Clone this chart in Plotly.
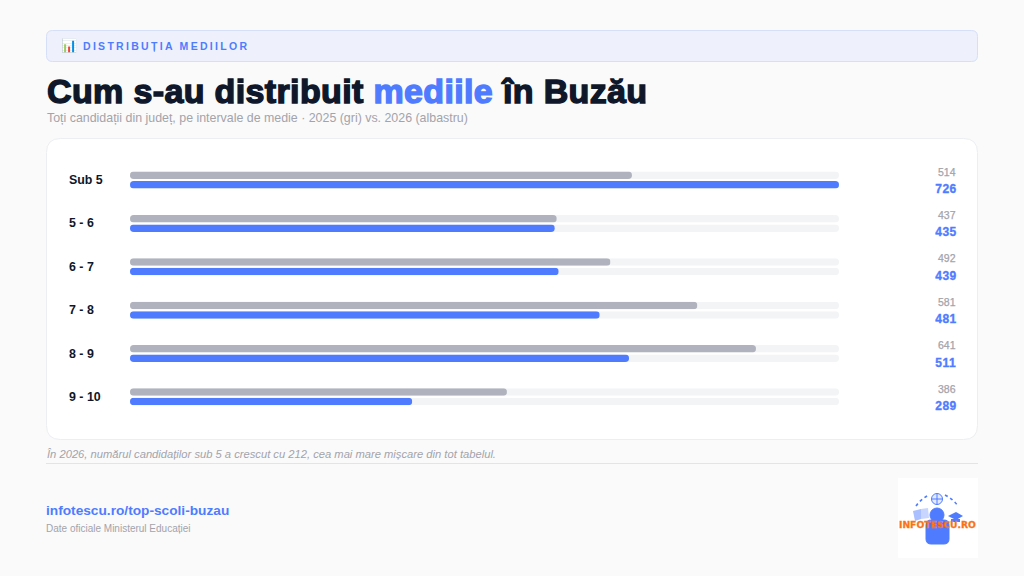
import plotly.graph_objects as go

categories = ["Sub 5", "5 - 6", "6 - 7", "7 - 8", "8 - 9", "9 - 10"]
values_2025 = [514, 437, 492, 581, 641, 386]
values_2026 = [726, 435, 439, 481, 511, 289]

W, H = 1024, 576
FONT = "Liberation Sans"
BLUE = "#4f7cff"
GREY = "#b0b3bd"
TRACK = "#f3f4f6"
DARK = "#0f172a"
MUTED = "#a3a3ab"

def px(x): return x / W
def py(y): return 1 - y / H

def rrect(x0, y0, x1, y1, r):
    return (f"M{px(x0+r)},{py(y0)} L{px(x1-r)},{py(y0)} Q{px(x1)},{py(y0)} {px(x1)},{py(y0+r)} "
            f"L{px(x1)},{py(y1-r)} Q{px(x1)},{py(y1)} {px(x1-r)},{py(y1)} L{px(x0+r)},{py(y1)} "
            f"Q{px(x0)},{py(y1)} {px(x0)},{py(y1-r)} L{px(x0)},{py(y0+r)} Q{px(x0)},{py(y0)} {px(x0+r)},{py(y0)} Z")

def panel(x0, y0, x1, y1, r, fill, line, lw=1):
    return dict(type="path", xref="paper", yref="paper", path=rrect(x0, y0, x1, y1, r),
                fillcolor=fill, line=dict(color=line, width=lw), layer="below")

def txt(x, y, text, size, color, bold=False, italic=False, anchor="left", family=FONT):
    return dict(xref="paper", yref="paper", x=px(x), y=py(y), text=text, showarrow=False,
                xanchor=anchor, yanchor="middle", align=anchor, borderpad=0, borderwidth=0,
                font=dict(family=family, size=size, color=color,
                          weight=700 if bold else 400, style="italic" if italic else "normal"))

fig = go.Figure()
ROW = 43.35
CENTER = 180.1
top, bottom = CENTER - ROW / 2, CENTER + 5.5 * ROW
bar_w = 7.5 / ROW
track_x = [max(values_2026)] * len(categories)
g_off = -4.75 / ROW - bar_w / 2
b_off = 4.75 / ROW - bar_w / 2
for xs, off, col in [(track_x, g_off, TRACK), (track_x, b_off, TRACK),
                     (values_2025, g_off, GREY), (values_2026, b_off, BLUE)]:
    fig.add_bar(y=categories, x=xs, orientation="h", width=[bar_w] * len(categories),
                offset=off, marker=dict(color=col, line=dict(width=0)),
                hoverinfo="skip", showlegend=False)

ann = [
    txt(61, 45.5, "📊", 13, BLUE),
    txt(83, 45.5, "DISTRIBUȚIA MEDIILOR", 10.5, BLUE, bold=True),
    txt(47, 91, f"Cum s-au distribuit <span style='color:{BLUE}'>mediile</span> în Buzău", 34, DARK, bold=True),
    txt(47, 118, "Toți candidații din județ, pe intervale de medie · 2025 (gri) vs. 2026 (albastru)", 12.4, MUTED),
    txt(47, 454, "În 2026, numărul candidaților sub 5 a crescut cu 212, cea mai mare mișcare din tot tabelul.", 11.2, MUTED, italic=True),
    txt(46, 510, "infotescu.ro/top-scoli-buzau", 13.7, BLUE, bold=True),
    txt(46, 528, "Date oficiale Ministerul Educației", 10, MUTED),
]
for c, a, b in zip(categories, values_2025, values_2026):
    ann.append(dict(xref="paper", yref="y", x=px(68), y=c, text=c, showarrow=False, xanchor="left",
                    borderpad=0, font=dict(family=FONT, size=12.4, color=DARK, weight=700)))
    ann.append(dict(xref="paper", yref="y", x=px(957), y=c, yshift=8.3, text=str(a), showarrow=False,
                    xanchor="right", borderpad=0, font=dict(family=FONT, size=10.5, color=MUTED, weight=400)))
    ann.append(dict(xref="paper", yref="y", x=px(957), y=c, yshift=-9, text=str(b), showarrow=False,
                    xanchor="right", borderpad=0, font=dict(family=FONT, size=12, color=BLUE, weight=700)))

# logo drawn from simple shapes and text
ann.append(txt(937.5, 524, "INFOTESCU.RO", 9.2, "#f97316", bold=True, anchor="center", family="DejaVu Sans"))
LB = "#4f7cff"
def poly(pts, fill):
    d = "M" + " L".join(f"{px(x)},{py(y)}" for x, y in pts) + " Z"
    return dict(type="path", xref="paper", yref="paper", path=d, fillcolor=fill, line=dict(width=0), layer="below")
def circ(cx, cy, r, fill, line=None):
    return dict(type="circle", xref="paper", yref="paper", x0=px(cx - r), x1=px(cx + r), y0=py(cy + r), y1=py(cy - r),
                fillcolor=fill, line=dict(color=line or fill, width=1), layer="below")
def seg(x0, y0, x1, y1, w=1, col=LB):
    return dict(type="line", xref="paper", yref="paper", x0=px(x0), x1=px(x1), y0=py(y0), y1=py(y1),
                line=dict(color=col, width=w), layer="below")
shapes = [
    panel(46.5, 30.5, 977.5, 61.5, 6, "#eef1fb", "#d6dffa"),
    panel(46.5, 138.5, 977.5, 439.5, 14, "#ffffff", "#eceef1"),
    dict(type="line", xref="paper", yref="paper", x0=px(46), x1=px(978), y0=py(463.5), y1=py(463.5),
         line=dict(color="#e3e4e8", width=1), layer="below"),
    dict(type="rect", xref="paper", yref="paper", x0=px(898), x1=px(978), y0=py(558), y1=py(478),
         fillcolor="#ffffff", line=dict(width=0), layer="below"),
    circ(937, 499, 5.5, "#e3eaff", LB),
    seg(931.5, 499, 942.5, 499), seg(937, 493.5, 937, 504.5),
    circ(937, 515, 7, LB),
    panel(926, 520, 949, 544, 5, LB, LB),
    poly([(913, 511), (921, 509), (921, 519), (915, 521)], "#a9bfff"),
    poly([(921, 509), (928, 508), (929, 518), (921, 519)], "#c7d5ff"),
    poly([(948, 516), (956, 512), (963, 516), (956, 520)], "#4f7cff"),
    poly([(951, 519), (960, 519), (960, 522), (951, 522)], "#4f7cff"),
    dict(type="path", xref="paper", yref="paper",
         path=f"M{px(916)},{py(506)} Q{px(921)},{py(499)} {px(929)},{py(495)}",
         line=dict(color=LB, width=1.6, dash="3px,3px"), layer="below"),
    dict(type="path", xref="paper", yref="paper",
         path=f"M{px(945)},{py(495)} Q{px(953)},{py(499)} {px(958)},{py(506)}",
         line=dict(color=LB, width=1.6, dash="3px,3px"), layer="below"),
]

fig.update_layout(
    width=W, height=H, margin=dict(l=0, r=0, t=0, b=0),
    paper_bgcolor="#fafafa", plot_bgcolor="rgba(0,0,0,0)",
    barmode="overlay",
    xaxis=dict(domain=[px(130), px(839)], range=[0, max(values_2026)], visible=False, fixedrange=True),
    yaxis=dict(domain=[py(bottom), py(top)], type="category", categoryorder="array", categoryarray=categories,
               autorange="reversed", visible=False, fixedrange=True),
    annotations=ann, shapes=shapes,
)

post = """
document.documentElement.style.margin='0';document.body.style.margin='0';document.body.style.overflow='hidden';
document.querySelectorAll('.bars .point path').forEach(function(p){p.style.clipPath='inset(0 round 3.75px)';});
document.querySelectorAll('.annotation-text').forEach(function(t){
  var s=t.textContent;
  if(s.indexOf('DISTRIBU')===0){t.style.letterSpacing='2.3px';}
  if(s.indexOf('INFOTESCU')===0){t.style.stroke='#f97316';t.style.strokeWidth='0.3px';}
  if(s.indexOf('Cum s-au')===0){t.style.letterSpacing='0.36px';
    var col=[t].concat(Array.from(t.querySelectorAll('tspan')));
    col.forEach(function(e){var f=e.style.fill; if(f){e.style.stroke=f;} e.style.strokeWidth='1.4px';});}
  if(['726','435','439','481','511','289'].indexOf(s)>=0){t.style.stroke='#4f7cff';t.style.strokeWidth='0.35px';t.style.letterSpacing='0.5px';}
  if(['514','437','492','581','641','386'].indexOf(s)>=0){t.style.stroke='#a3a3ab';t.style.strokeWidth='0.25px';}
});
"""
fig.write_html("out.html", post_script=post, config={"displayModeBar": False})
